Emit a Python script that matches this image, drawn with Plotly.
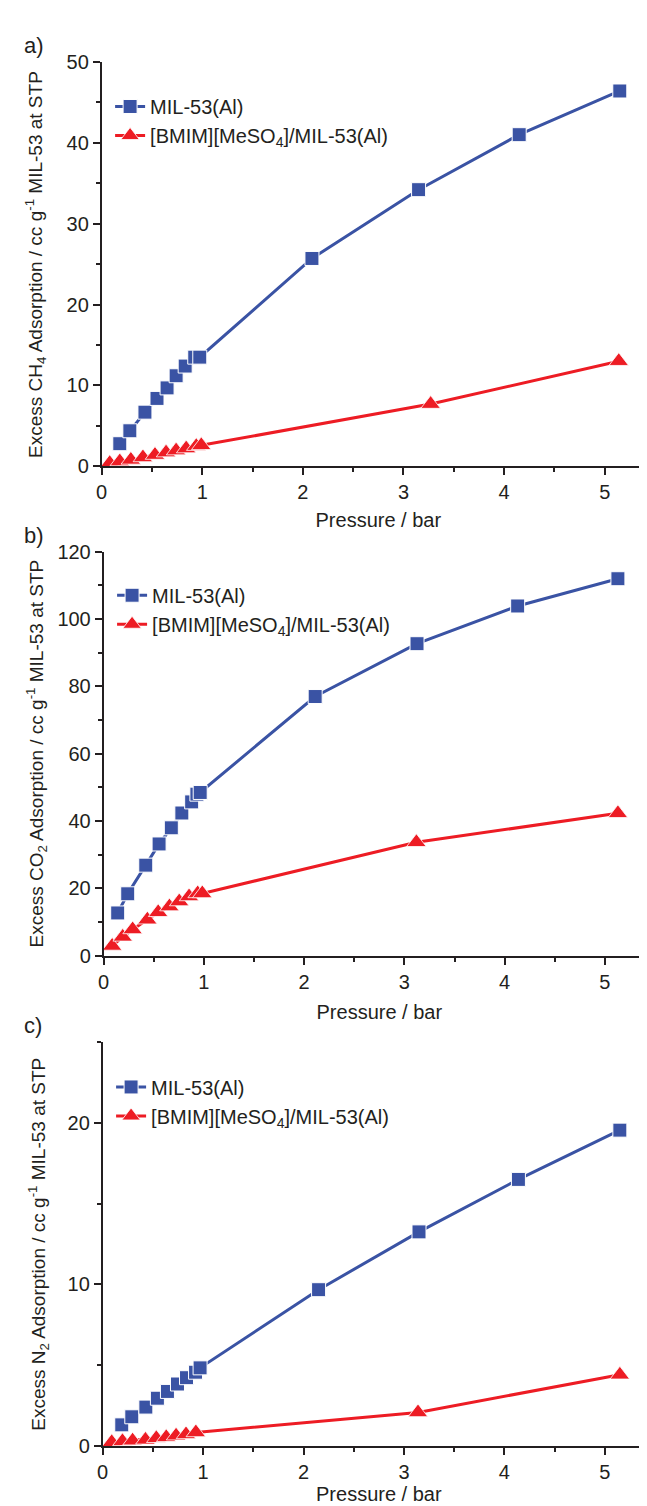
import plotly.graph_objects as go

# ---------------- data ----------------
# Panel a) CH4
ch4_mil_p = [0.18, 0.28, 0.43, 0.55, 0.65, 0.74, 0.83, 0.925, 0.975, 2.09, 3.15, 4.15, 5.15]
ch4_mil_v = [2.8, 4.4, 6.7, 8.4, 9.7, 11.2, 12.4, 13.5, 13.5, 25.7, 34.2, 41.0, 46.4]
ch4_il_p = [0.08, 0.18, 0.29, 0.41, 0.53, 0.64, 0.74, 0.84, 0.94, 0.99, 3.27, 5.14]
ch4_il_v = [0.4, 0.6, 0.8, 1.1, 1.4, 1.7, 1.95, 2.2, 2.5, 2.6, 7.7, 13.0]

# Panel b) CO2
co2_mil_p = [0.14, 0.24, 0.42, 0.553, 0.675, 0.78, 0.878, 0.93, 0.963, 2.11, 3.126, 4.13, 5.13]
co2_mil_v = [12.7, 18.4, 26.9, 33.2, 38.0, 42.4, 45.7, 48.0, 48.5, 77.0, 92.7, 103.9, 112.0]
co2_il_p = [0.085, 0.19, 0.289, 0.436, 0.544, 0.656, 0.754, 0.852, 0.938, 0.984, 3.12, 5.13]
co2_il_v = [2.9, 5.6, 7.8, 10.7, 12.9, 14.6, 16.1, 17.6, 18.5, 18.5, 33.7, 42.3]

# Panel c) N2
n2_mil_p = [0.19, 0.29, 0.43, 0.545, 0.645, 0.745, 0.835, 0.925, 0.97, 2.15, 3.15, 4.14, 5.15]
n2_mil_v = [1.3, 1.8, 2.4, 2.95, 3.37, 3.83, 4.22, 4.56, 4.83, 9.67, 13.25, 16.5, 19.55]
n2_il_p = [0.09, 0.197, 0.298, 0.426, 0.534, 0.633, 0.731, 0.83, 0.928, 3.14, 5.15]
n2_il_v = [0.22, 0.28, 0.32, 0.37, 0.47, 0.53, 0.63, 0.71, 0.83, 2.07, 4.4]

series_names = ["MIL-53(Al)", "[BMIM][MeSO<sub>4</sub>]/MIL-53(Al)"]
panel_labels = ["a)", "b)", "c)"]
y_titles = [
    "Excess CH<sub>4</sub> Adsorption / cc g<sup>-1</sup> MIL-53 at STP",
    "Excess CO<sub>2</sub> Adsorption / cc g<sup>-1</sup> MIL-53 at STP",
    "Excess N<sub>2</sub> Adsorption / cc g<sup>-1</sup> MIL-53 at STP",
]
x_title = "Pressure / bar"
y_ranges = [[0, 50], [0, 120], [0, 25]]
y_dtick = [10, 20, 10]
x_ticks = [0, 1, 2, 3, 4, 5]

# ---------------- style ----------------
W, H = 647, 1506
FONT = "Liberation Sans, Arial, Helvetica, sans-serif"
BLUE = "#3A53A4"
RED = "#ED1C24"
AX = "#231F20"

# pixel geometry of each panel (left x of y axis, top y, bottom y)
panels = [
    dict(left=88.5, top=43.5, bottom=454.0),
    dict(left=90.5, top=540.7, bottom=950.6),
    dict(left=89.5, top=1038.3, bottom=1448.0),
]
legend_pos = [(97, 69), (99, 565), (98, 1064)]
ytitle_x = [21, 23, 25]
xtitle_standoff = [11, 13, 5]

data = [
    (ch4_mil_p, ch4_mil_v, ch4_il_p, ch4_il_v),
    (co2_mil_p, co2_mil_v, co2_il_p, co2_il_v),
    (n2_mil_p, n2_mil_v, n2_il_p, n2_il_v),
]

fig = go.Figure()
for i, (mp, mv, ip, iv) in enumerate(data):
    sfx = "" if i == 0 else str(i + 1)
    leg = "legend" if i == 0 else f"legend{i + 1}"
    fig.add_trace(go.Scatter(
        x=mp, y=mv, mode="lines+markers", name=series_names[0],
        xaxis="x" + sfx, yaxis="y" + sfx, legend=leg, cliponaxis=False,
        line=dict(color=BLUE, width=3),
        marker=dict(symbol="square", size=14, color=BLUE,
                    line=dict(color="white", width=1.0)),
    ))
    fig.add_trace(go.Scatter(
        x=ip, y=iv, mode="lines+markers", name=series_names[1],
        xaxis="x" + sfx, yaxis="y" + sfx, legend=leg, cliponaxis=False,
        line=dict(color=RED, width=3),
        marker=dict(symbol="triangle-up", size=17, color=RED,
                    line=dict(color="white", width=0.8)),
    ))

layout = dict(
    width=W, height=H,
    margin=dict(l=0, r=0, t=0, b=0),
    paper_bgcolor="white", plot_bgcolor="white",
    font=dict(family=FONT, size=20, color=AX),
    showlegend=True,
    annotations=[],
)

for i, p in enumerate(panels):
    sfx = "" if i == 0 else str(i + 1)
    xd = [p["left"] / W, 1.0]
    yd = [1 - p["bottom"] / H, 1 - p["top"] / H]
    layout["xaxis" + sfx] = dict(
        domain=xd, anchor="y" + sfx, range=[0, 5.5],
        tickvals=x_ticks, ticks="outside", ticklen=7, tickwidth=1.5, tickcolor=AX,
        showline=True, linecolor=AX, linewidth=1.8, showgrid=False, zeroline=False,
        minor=dict(dtick=0.5, ticks="outside", ticklen=4, tickwidth=1.5, tickcolor=AX),
        tickfont=dict(size=20, color=AX),
        title=dict(text=x_title, font=dict(size=20, color=AX), standoff=xtitle_standoff[i]),
    )
    layout["yaxis" + sfx] = dict(
        domain=yd, anchor="x" + sfx, range=y_ranges[i], dtick=y_dtick[i],
        ticks="outside", ticklen=7, tickwidth=1.5, tickcolor=AX,
        showline=True, linecolor=AX, linewidth=1.8, showgrid=False, zeroline=False,
        minor=dict(dtick=y_dtick[i] / 2, ticks="outside", ticklen=4, tickwidth=1.5, tickcolor=AX),
        tickfont=dict(size=20, color=AX),
    )
    lx, ly = legend_pos[i]
    layout["legend" if i == 0 else f"legend{i + 1}"] = dict(
        x=lx / W, y=1 - ly / H, xanchor="left", yanchor="top",
        bgcolor="rgba(0,0,0,0)", borderwidth=0,
        font=dict(size=20, color=AX), itemwidth=30, tracegroupgap=0,
    )
    layout["annotations"].append(dict(
        text=panel_labels[i], xref="paper", yref="paper",
        x=8 / W, y=1 - (p["top"] - 17) / H, xanchor="left", yanchor="middle",
        showarrow=False, font=dict(size=22, color=AX),
    ))
    layout["annotations"].append(dict(
        text=y_titles[i], xref="paper", yref="paper", textangle=-90,
        x=ytitle_x[i] / W, y=1 - (p["top"] + p["bottom"]) / 2 / H,
        xanchor="center", yanchor="middle",
        showarrow=False, font=dict(size=19, color=AX),
    ))

fig.update_layout(**layout)
fig.write_html("out.html")
